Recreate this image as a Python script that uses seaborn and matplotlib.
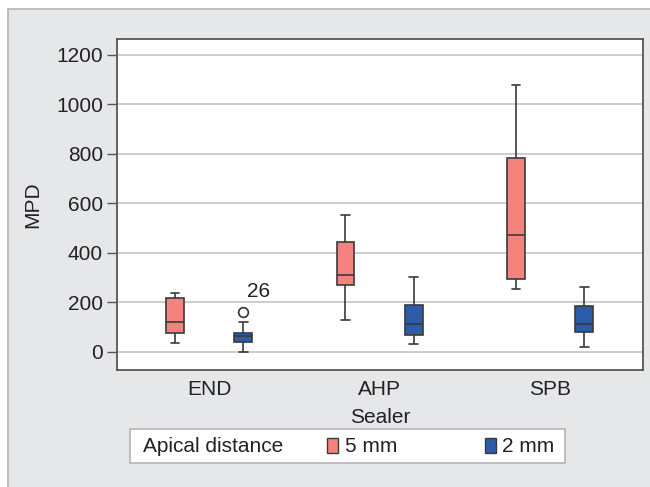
import numpy as np
import pandas as pd
import matplotlib
matplotlib.use("Agg")
import matplotlib.pyplot as plt
from matplotlib.patches import Patch, Rectangle
import seaborn as sns

# %%
# values (MPD by sealer and apical distance)
sealers = ["END", "AHP", "SPB"]
distances = ["5 mm", "2 mm"]

five_mm_low = [35, 127, 255]
five_mm_q1 = [77, 268, 295]
five_mm_med = [119, 310, 472]
five_mm_q3 = [216, 444, 784]
five_mm_high = [239, 552, 1078]

two_mm_low = [0, 32, 18]
two_mm_q1 = [39, 69, 81]
two_mm_med = [65, 111, 111]
two_mm_q3 = [77, 187, 186]
two_mm_high = [119, 300, 260]

# outlier case 26 (END, 2 mm)
outlier_sealer = "END"
outlier_dist = "2 mm"
outlier_value = 160
outlier_label = "26"

colors = {"5 mm": "#f4837f", "2 mm": "#2c5ba9"}

# %%
# build rows so that the quartiles land exactly on the read values
stats = {
    "5 mm": (five_mm_low, five_mm_q1, five_mm_med, five_mm_q3, five_mm_high),
    "2 mm": (two_mm_low, two_mm_q1, two_mm_med, two_mm_q3, two_mm_high),
}
rows = []
for dist in distances:
    lo, q1, med, q3, hi = stats[dist]
    for i, s in enumerate(sealers):
        vals = [lo[i], q1[i], q1[i], med[i], med[i], q3[i], q3[i], hi[i]]
        if s == outlier_sealer and dist == outlier_dist:
            vals.append(outlier_value)
        rows += [{"Sealer": s, "Apical distance": dist, "MPD": v} for v in vals]
df = pd.DataFrame(rows)

# %%
sns.set_theme(style="white")
plt.rcParams["font.family"] = ["Liberation Sans", "DejaVu Sans"]
fs = 15
txt = "#222222"

fig = plt.figure(figsize=(6.5, 4.87), dpi=100, facecolor="white")
fig.add_artist(Rectangle((8 / 650, -0.1), 1.1, 1 - 9 / 487 + 0.1,
                         transform=fig.transFigure, facecolor="#e6e7e9",
                         edgecolor="#b4b4b6", linewidth=1.2, zorder=0))
ax = fig.add_axes([117 / 650, 1 - 370 / 487, 526 / 650, 331 / 487])
ax.set_facecolor("white")

sns.boxplot(data=df, x="Sealer", y="MPD", hue="Apical distance",
            order=sealers, hue_order=distances, palette=colors,
            saturation=1, gap=0.74, linewidth=1.2, linecolor="#3a3a3a",
            flierprops=dict(marker="o", markersize=7, markerfacecolor="none",
                            markeredgecolor="#333333", markeredgewidth=1.2),
            legend=False, ax=ax, zorder=3)

# label the outlier with its case number
xo = sealers.index(outlier_sealer) + 0.2
ax.annotate(outlier_label, (xo, outlier_value), xytext=(3, 11),
            textcoords="offset points", fontsize=fs, color=txt)

ax.set_ylim(-74, 1263)
ax.set_xlim(-0.54, 2.545)
ax.set_yticks(range(0, 1201, 200))
ax.yaxis.grid(True, color="#c4c4c8", linewidth=1.2)
ax.set_axisbelow(True)
for sp in ax.spines.values():
    sp.set_color("#555555")
    sp.set_linewidth(1.3)
ax.tick_params(axis="y", left=True, length=7, width=1, color="#555555",
               pad=3, labelsize=fs, labelcolor=txt)
ax.tick_params(axis="x", bottom=False, pad=1.5, labelsize=fs, labelcolor=txt)
ax.set_xlabel("Sealer", fontsize=fs, color=txt, labelpad=6)
ax.set_ylabel("MPD", fontsize=fs, color=txt, labelpad=10)

# legend box: inline title on the left, then the two swatches
fig.add_artist(Rectangle((130 / 650, 1 - 463 / 487), 435 / 650, 34 / 487,
                         transform=fig.transFigure, facecolor="white",
                         edgecolor="#b4b4b6", linewidth=1.2, zorder=1))
fig.text(143 / 650, 1 - 446 / 487, "Apical distance", fontsize=fs, color=txt,
         ha="left", va="center", zorder=2)
handles = [Patch(facecolor=colors[d], edgecolor="#3a3a3a", linewidth=1) for d in distances]
leg = fig.legend(handles, distances, ncol=2, loc="center left",
                 bbox_to_anchor=(327 / 650, 1 - 447 / 487), frameon=False,
                 fontsize=fs, handlelength=0.55, handleheight=0.75,
                 handletextpad=0.3, columnspacing=4.2, borderaxespad=0, borderpad=0)
for t in leg.get_texts():
    t.set_color(txt)

fig.savefig("out.png", dpi=100, facecolor="white")
